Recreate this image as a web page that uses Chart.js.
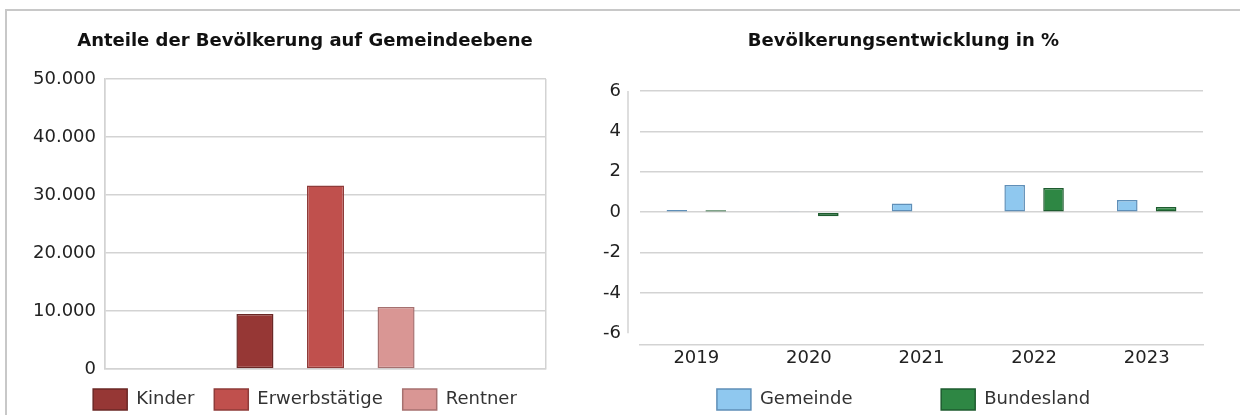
<!DOCTYPE html>
<html>
<head>
<meta charset="utf-8">
<script src="https://cdn.jsdelivr.net/npm/chart.js@4"></script>
<style>
  body { margin: 0; background: #fff; overflow: hidden; width: 1240px; height: 415px; position: relative; }
  #frame { position: absolute; left: 5px; top: 9px; width: 1300px; height: 500px; border: 2px solid #c8c8c8; }
  #c1 { position: absolute; left: 8px; top: 11px; }
  #c2 { position: absolute; left: 598px; top: 11px; }
</style>
</head>
<body>
<div id="frame"></div>
<canvas id="c1" width="594" height="409"></canvas>
<canvas id="c2" width="611" height="409"></canvas>
<script>
// Anteile der Bevölkerung
const groupNames = ['Kinder', 'Erwerbstätige', 'Rentner'];
const groupValues = [9500, 31650, 10700];
const groupColors = ['#963735', '#c0504d', '#d99694'];
const groupBorders = ['#6b2826', '#8e3b39', '#a6706f'];

// Bevölkerungsentwicklung
const years = ['2019', '2020', '2021', '2022', '2023'];
const gemeinde = [0.11, 0.02, 0.43, 1.35, 0.6];
const bundesland = [0.1, -0.2, 0.03, 1.19, 0.26];

Chart.defaults.font.family = '"DejaVu Sans", Verdana, sans-serif';
Chart.defaults.font.size = 18;
Chart.defaults.color = '#222';
Chart.defaults.animation = false;

const gridColor = '#d3d3d3';

const titleOpts = (text, bottom) => ({
    display: true,
    text: text,
    color: '#111',
    font: { weight: 'bold', size: 18 },
    padding: { top: 20, bottom: bottom }
});

const legendOpts = (padding) => ({
    position: 'bottom',
    labels: { boxWidth: 34, boxHeight: 21, padding: padding, color: '#333' }
});

// spacer on the right side of the plot (keeps title centred on the canvas)
const spacer = (w) => ({
    type: 'linear',
    position: 'right',
    display: true,
    grid: { display: false },
    border: { display: false },
    ticks: { display: false },
    afterFit: s => { s.width = w; }
});

new Chart(document.getElementById('c1'), {
    type: 'bar',
    data: {
        labels: [''],
        datasets: groupNames.map((name, i) => ({
            label: name,
            data: [groupValues[i]],
            backgroundColor: groupColors[i],
            borderColor: groupBorders[i],
            borderWidth: 1.5,
            borderSkipped: false
        }))
    },
    options: {
        responsive: false,
        categoryPercentage: 0.48,
        barPercentage: 0.525,
        layout: { padding: 0 },
        plugins: {
            title: titleOpts('Anteile der Bevölkerung auf Gemeindeebene', 26.4),
            legend: legendOpts(20),
            tooltip: { enabled: false }
        },
        scales: {
            x: {
                ticks: { display: false },
                grid: { color: gridColor, lineWidth: 1.5, drawTicks: false },
                border: { color: gridColor, width: 1.5 }
            },
            y: {
                min: 0,
                max: 50000,
                ticks: {
                    stepSize: 10000,
                    padding: 9,
                    callback: v => v.toLocaleString('de-DE')
                },
                grid: { color: gridColor, lineWidth: 1.5, drawTicks: false },
                border: { color: gridColor, width: 1.5 },
                afterFit: s => { s.width = 97; }
            },
            y2: spacer(56)
        }
    }
});

const yAxisLine = {
    id: 'yAxisLine',
    beforeDatasetsDraw(chart) {
        const ctx = chart.ctx;
        const y = chart.scales.y;
        const x = chart.chartArea.left - 12;
        ctx.save();
        ctx.strokeStyle = gridColor;
        ctx.lineWidth = 1.5;
        ctx.beginPath();
        ctx.moveTo(x, y.getPixelForValue(6));
        ctx.lineTo(x, y.getPixelForValue(-6));
        ctx.stroke();
        ctx.restore();
    }
};

new Chart(document.getElementById('c2'), {
    type: 'bar',
    data: {
        labels: years,
        datasets: [{
            label: 'Gemeinde',
            data: gemeinde,
            backgroundColor: '#8fc8ef',
            borderColor: '#5f8fb8',
            borderWidth: 1.5,
            borderSkipped: false
        }, {
            label: 'Bundesland',
            data: bundesland,
            backgroundColor: '#2e8744',
            borderColor: '#1e5c2f',
            borderWidth: 1.5,
            borderSkipped: false
        }]
    },
    options: {
        responsive: false,
        categoryPercentage: 0.69,
        barPercentage: 0.53,
        layout: { padding: 0 },
        plugins: {
            title: titleOpts('Bevölkerungsentwicklung in %', 38.4),
            legend: {
                position: 'bottom',
                labels: {
                    boxWidth: 34, boxHeight: 21, padding: 20, color: '#333',
                    generateLabels(chart) {
                        const items = Chart.defaults.plugins.legend.labels.generateLabels(chart);
                        items.splice(1, 0, { text: ' ', fillStyle: 'rgba(0,0,0,0)', strokeStyle: 'rgba(0,0,0,0)', lineWidth: 0, hidden: false });
                        return items;
                    }
                }
            },
            tooltip: { enabled: false }
        },
        scales: {
            x: {
                ticks: { padding: 3 },
                grid: { display: false, drawTicks: false },
                border: { color: gridColor, width: 1.5 },
                afterFit: s => { s.height -= 3; }
            },
            y: {
                min: -6.55,
                max: 6,
                ticks: {
                    stepSize: 2,
                    padding: 19,
                    includeBounds: false,
                    callback: v => String(v)
                },
                grid: {
                    color: c => (c.tick && c.tick.value === -6) ? 'rgba(0,0,0,0)' : gridColor,
                    lineWidth: 1.5,
                    drawTicks: false
                },
                border: { display: false },
                afterFit: s => { s.width = 42; }
            },
            y2: spacer(6)
        }
    },
    plugins: [yAxisLine]
});
</script>
</body>
</html>
